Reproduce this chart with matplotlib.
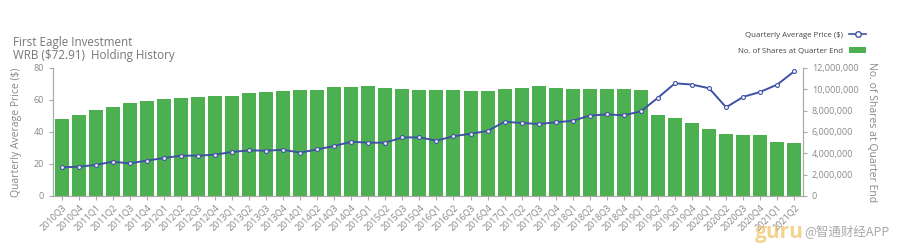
import matplotlib.pyplot as plt
from matplotlib.ticker import FuncFormatter
from matplotlib.lines import Line2D
from matplotlib.patches import Patch

plt.rcParams['font.family'] = ['Open Sans', 'DejaVu Sans']

quarters = []
for y in range(2010, 2022):
    for q in range(1, 5):
        if (y == 2010 and q < 3) or (y == 2021 and q > 2):
            continue
        quarters.append(f"{y}Q{q}")

shares = [7.22e6, 7.56e6, 8.09e6, 8.37e6, 8.75e6, 8.93e6, 9.09e6, 9.19e6, 9.28e6, 9.40e6,
          9.40e6, 9.66e6, 9.78e6, 9.84e6, 9.94e6, 9.97e6, 10.18e6, 10.18e6, 10.28e6, 10.12e6,
          9.99e6, 9.90e6, 9.90e6, 9.90e6, 9.84e6, 9.84e6, 10.03e6, 10.09e6, 10.34e6, 10.09e6,
          10.03e6, 10.03e6, 10.03e6, 10.03e6, 9.94e6, 7.59e6, 7.31e6, 6.84e6, 6.24e6, 5.78e6,
          5.72e6, 5.70e6, 5.03e6, 4.97e6]

price = [17.9, 18.3, 19.4, 21.4, 20.4, 22.1, 23.7, 25.2, 25.2, 25.8,
         27.5, 28.5, 28.3, 28.9, 27.1, 29.1, 31.2, 33.9, 33.3, 33.3,
         36.6, 36.6, 34.6, 37.3, 38.9, 40.6, 46.4, 45.6, 45.0, 46.0,
         47.0, 50.2, 51.0, 50.4, 52.9, 61.4, 70.4, 69.6, 67.3, 55.4,
         61.9, 65.0, 69.6, 77.9]

gray = '#888888'
green = '#4caf50'
blue = '#3f51a5'

fig = plt.figure(figsize=(8.99, 2.47), dpi=100)
ax = fig.add_axes([0.059, 0.2065, 0.834, 0.5185])
ax2 = ax.twinx()

x = list(range(len(quarters)))
ax2.bar(x, shares, width=0.82, color=green, zorder=1)
ax2.set_ylim(0, 12e6)
ax2.set_yticks([i * 2e6 for i in range(7)])
ax2.yaxis.set_major_formatter(FuncFormatter(lambda v, p: f"{int(v):,}"))

# price line drawn on top of bars
ax.set_zorder(ax2.get_zorder() + 1)
ax.patch.set_visible(False)
ax.plot(x, price, color=blue, lw=1.4, marker='o', ms=2.8, mfc='white',
        mec=blue, mew=0.8)
ax.set_ylim(0, 80)
ax.set_yticks([0, 20, 40, 60, 80])
ax.set_xlim(-0.5, len(quarters) - 0.5)
ax.set_xticks(x)
ax.set_xticklabels(quarters, rotation=45, ha='right', rotation_mode='anchor')

for a in (ax, ax2):
    for s in a.spines.values():
        s.set_color('#aaaaaa')
        s.set_linewidth(0.8)
    a.spines['top'].set_visible(False)
    a.tick_params(colors='#aaaaaa', labelcolor=gray, labelsize=6.5, length=3, width=0.8)
ax.tick_params(axis='x', labelsize=6.5, pad=2)

ax.set_ylabel('Quarterly Average Price ($)', color=gray, fontsize=7.5, labelpad=8)
ax2.set_ylabel('No. of Shares at Quarter End', color=gray, fontsize=7.5,
               rotation=270, labelpad=13)

fig.text(0.014, 0.855, 'First Eagle Investment\nWRB ($72.91)  Holding History',
         color='#777777', fontsize=8.4, va='top', linespacing=1.0)

handles = [Line2D([0], [0], color=blue, lw=1.2, marker='o', ms=4, mfc='white', mec=blue),
           Patch(facecolor=green)]
fig.legend(handles, ['Quarterly Average Price ($)', 'No. of Shares at Quarter End'],
           loc='upper right', bbox_to_anchor=(0.968, 0.89), frameon=False,
           fontsize=5.7, labelcolor='#444444', markerfirst=False,
           handlelength=2.2, handleheight=0.8, labelspacing=1.0, borderpad=0)

fig.text(0.84, 0.035, 'guru', color='#f0c060', alpha=0.7, fontsize=15,
         fontweight='bold')
fig.text(0.895, 0.05, '@智通财经APP', color='#aaaaaa', fontsize=9,
         family=['Noto Sans CJK SC', 'DejaVu Sans'])

fig.savefig('out.png', dpi=100)
